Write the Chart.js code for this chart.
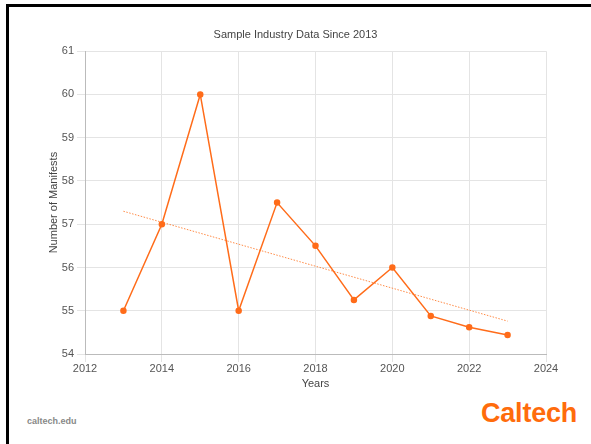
<!DOCTYPE html>
<html>
<head>
<meta charset="utf-8">
<script src="https://cdn.jsdelivr.net/npm/chart.js@4/dist/chart.umd.min.js"></script>
<style>
  html, body { margin: 0; padding: 0; background: #fff; }
  body { width: 591px; height: 444px; position: relative; overflow: hidden; font-family: "Liberation Sans", Arial, sans-serif; }
  .frame { position: absolute; left: 6px; top: 4px; right: -10px; bottom: -10px; border-top: 3px solid #000; border-left: 3px solid #000; }
  .box { position: absolute; left: 0; top: 0; width: 591px; height: 395px; }
  .url { position: absolute; left: 27px; top: 416px; font-size: 9px; font-weight: bold; color: #888; }
  .logo { position: absolute; left: 481px; top: 398px; font-size: 27px; font-weight: bold; color: #ff6c0c; letter-spacing: -0.2px; }
</style>
</head>
<body>
<div class="frame"></div>
<div class="box"><canvas id="chart"></canvas></div>
<div class="url">caltech.edu</div>
<div class="logo">Caltech</div>
<script>
const years = [2013, 2014, 2015, 2016, 2017, 2018, 2019, 2020, 2021, 2022, 2023];
const manifests = [55, 57, 60, 55, 57.5, 56.5, 55.25, 56, 54.88, 54.62, 54.44];
const trendYears = [2013, 2023];
const trendValues = [57.3, 54.76];

const orange = '#ff6c1a';

new Chart(document.getElementById('chart'), {
    type: 'scatter',
    data: {
        datasets: [{
            label: 'Manifests',
            data: years.map((y, i) => ({ x: y, y: manifests[i] })),
            showLine: true,
            borderColor: orange,
            backgroundColor: orange,
            borderWidth: 1.5,
            pointRadius: 2.5,
            tension: 0
        }, {
            label: 'Trend',
            data: trendYears.map((y, i) => ({ x: y, y: trendValues[i] })),
            showLine: true,
            borderColor: 'rgba(255,120,40,0.85)',
            borderWidth: 1,
            borderDash: [1.5, 1.5],
            pointRadius: 0
        }]
    },
    options: {
        responsive: true,
        maintainAspectRatio: false,
        animation: false,
        layout: { padding: { left: 45, right: 45, top: 28, bottom: 0 } },
        plugins: {
            legend: { display: false },
            tooltip: { enabled: false },
            title: {
                display: true,
                text: 'Sample Industry Data Since 2013',
                color: '#444',
                font: { family: 'Liberation Sans', size: 11, weight: 'normal' },
                padding: { top: 0, bottom: 10 }
            }
        },
        scales: {
            x: {
                type: 'linear',
                min: 2012,
                max: 2024,
                ticks: { stepSize: 2, padding: 0, color: '#555', font: { family: 'Liberation Sans', size: 11 }, callback: v => String(v) },
                grid: { color: '#e4e4e4' },
                border: { color: '#bbb' },
                title: { display: true, text: 'Years', color: '#444', font: { family: 'Liberation Sans', size: 11 }, padding: { top: 0, bottom: 4 } },
                afterFit: s => { s.height = 41; }
            },
            y: {
                min: 54,
                max: 61,
                ticks: { stepSize: 1, color: '#555', font: { family: 'Liberation Sans', size: 11 } },
                grid: { color: '#e4e4e4' },
                border: { color: '#bbb' },
                title: { display: true, text: 'Number of Manifests', color: '#444', font: { family: 'Liberation Sans', size: 11 }, padding: { top: 2, bottom: 0 } },
                afterFit: s => { s.width = 40; }
            }
        }
    }
});
</script>
</body>
</html>
